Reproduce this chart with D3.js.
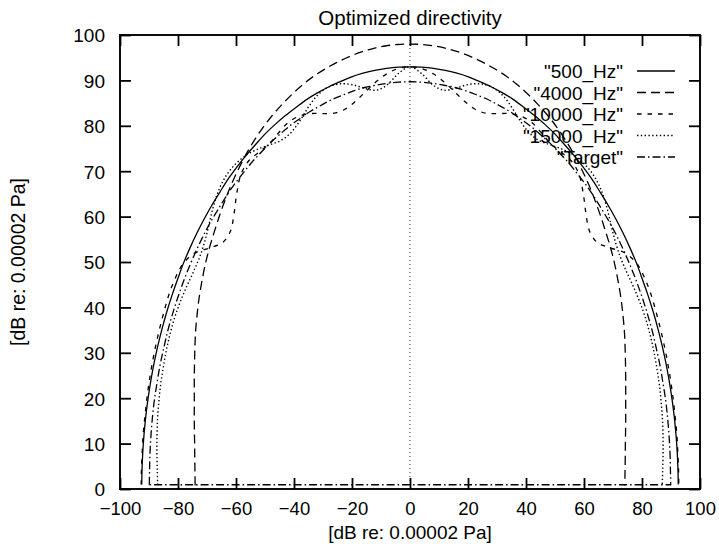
<!DOCTYPE html>
<html><head><meta charset="utf-8">
<script src="https://cdn.jsdelivr.net/npm/d3@7"></script>
<style>body{margin:0;background:#fff}svg{display:block}text{font-family:"Liberation Sans",Arial,Helvetica,sans-serif;fill:#000}</style>
</head><body><svg id="chart" width="719" height="546"></svg>
<script>
const chartTitle = "Optimized directivity";
const xLabel = "[dB re: 0.00002 Pa]";
const yLabel = "[dB re: 0.00002 Pa]";
const xTicks = [-100,-80,-60,-40,-20,0,20,40,60,80,100];
const yTicks = [0,10,20,30,40,50,60,70,80,90,100];
const seriesNames = ['"500_Hz"','"4000_Hz"','"10000_Hz"','"15000_Hz"','"Target"'];

// polar angles (degrees from the front axis) and levels (dB)
const anglesDeg = [-89.4,-87.5,-85,-82.5,-80,-77.5,-75,-72.5,-70,-67.5,-65,-62.5,-60,-57.5,-55,-52.5,-50,-47.5,-45,-42.5,-40,-37.5,-35,-32.5,-30,-27.5,-25,-22.5,-20,-17.5,-15,-12.5,-10,-7.5,-5,-2.5,0,2.5,5,7.5,10,12.5,15,17.5,20,22.5,25,27.5,30,32.5,35,37.5,40,42.5,45,47.5,50,52.5,55,57.5,60,62.5,65,67.5,70,72.5,75,77.5,80,82.5,85,87.5,89.4];

const level500 = [92.5,92.5,92.5,92.5,92.5,92.5,92.5,92.5,92.5,92.5,92.5,92.5,92.5,92.6,92.6,92.6,92.6,92.6,92.6,92.7,92.7,92.7,92.7,92.8,92.8,92.8,92.8,92.9,92.9,92.9,92.9,93.0,93.0,93.0,93.0,93.0,93.0,93.0,93.0,93.0,93.0,93.0,92.9,92.9,92.9,92.9,92.8,92.8,92.8,92.8,92.7,92.7,92.7,92.7,92.6,92.6,92.6,92.6,92.6,92.6,92.5,92.5,92.5,92.5,92.5,92.5,92.5,92.5,92.5,92.5,92.5,92.5,92.5];

const level4000 = [74.1,74.2,74.5,74.9,75.5,76.2,77.0,78.0,79.1,80.3,81.6,82.8,84.0,85.1,86.2,87.2,88.1,89.1,90.1,91.1,92.0,92.9,93.7,94.4,95.0,95.5,96.0,96.45,96.8,97.05,97.3,97.5,97.7,97.85,97.95,98.0,98.0,98.0,97.95,97.85,97.7,97.5,97.3,97.05,96.8,96.45,96.0,95.5,95.0,94.4,93.7,92.9,92.0,91.1,90.1,89.1,88.1,87.2,86.2,85.1,84.0,82.8,81.6,80.3,79.1,78.0,77.0,76.2,75.5,74.9,74.5,74.2,74.1];

const level10000 = [92.7,92.7,92.7,92.8,92.8,92.9,93.0,93.1,93.2,93.3,93.4,93.5,93.3,92.6,90.6,87.2,84.4,84.0,85.8,88.4,90.6,91.2,90.6,90.2,90.6,91.0,90.6,89.5,88.0,86.8,86.6,87.4,88.8,90.4,91.8,92.7,93.0,92.7,91.8,90.4,88.8,87.4,86.6,86.8,88.0,89.5,90.6,91.0,90.6,90.2,90.6,91.2,90.6,88.4,85.8,84.0,84.4,87.2,90.6,92.6,93.3,93.5,93.4,93.3,93.2,93.1,93.0,92.9,92.8,92.8,92.7,92.7,92.7];

const level15000 = [87.0,87.2,87.6,88.0,88.4,88.7,89.0,89.2,89.4,89.5,89.5,89.3,89.0,88.7,88.7,89.3,90.5,92.0,93.2,93.7,93.5,92.7,91.4,89.9,88.7,88.6,89.6,91.2,92.5,92.9,92.4,91.2,89.6,88.6,89.4,91.6,93.0,91.6,89.4,88.6,89.6,91.2,92.4,92.9,92.5,91.2,89.6,88.6,88.7,89.9,91.4,92.7,93.5,93.7,93.2,92.0,90.5,89.3,88.7,88.7,89.0,89.3,89.5,89.5,89.4,89.2,89.0,88.7,88.4,88.0,87.6,87.2,87.0];

const levelTarget = [89.9,89.9,90.0,90.1,90.2,90.3,90.3,90.4,90.4,90.5,90.5,90.5,90.5,90.5,90.5,90.5,90.5,90.4,90.4,90.4,90.3,90.3,90.2,90.2,90.1,90.1,90.0,90.0,89.9,89.9,89.8,89.8,89.8,89.7,89.7,89.7,89.7,89.7,89.7,89.7,89.8,89.8,89.8,89.9,89.9,90.0,90.0,90.1,90.1,90.2,90.2,90.3,90.3,90.4,90.4,90.4,90.5,90.5,90.5,90.5,90.5,90.5,90.5,90.5,90.4,90.4,90.3,90.3,90.2,90.1,90.0,89.9,89.9];

const seriesLevels = [level500, level4000, level10000, level15000, levelTarget];
const seriesDash = [null, "9,5", "4.5,6", "1.4,2.4", "8,3,1.5,3"];

const svg = d3.select("#chart");
const W = 719, H = 546;
svg.append("rect").attr("width", W).attr("height", H).attr("fill", "#fff");

const x = d3.scaleLinear().domain([-100, 100]).range([120, 700]);
const y = d3.scaleLinear().domain([0, 100]).range([489, 35]);

// zero axis
svg.append("line")
  .attr("x1", x(0)).attr("x2", x(0)).attr("y1", y(0)).attr("y2", y(100))
  .attr("stroke", "#333").attr("stroke-width", 1).attr("stroke-dasharray", "1,3");

// axes
const inner = 11;
const gL = svg.append("g").attr("transform", `translate(${x(-100)},0)`)
  .call(d3.axisLeft(y).tickValues(yTicks).tickSize(-inner).tickPadding(15).tickFormat(d3.format("d")));
const gB = svg.append("g").attr("transform", `translate(0,${y(0)})`)
  .call(d3.axisBottom(x).tickValues(xTicks).tickSize(-inner).tickPadding(13).tickFormat(d3.format("d")));
const gR = svg.append("g").attr("transform", `translate(${x(100)},0)`)
  .call(d3.axisRight(y).tickValues(yTicks).tickSize(-inner).tickFormat(""));
const gT = svg.append("g").attr("transform", `translate(0,${y(100)})`)
  .call(d3.axisTop(x).tickValues(xTicks).tickSize(-inner).tickFormat(""));
[gL, gB, gR, gT].forEach(g => {
  g.select(".domain").remove();
  g.selectAll(".tick line").attr("stroke", "#000").attr("stroke-width", 1.8);
  g.selectAll("text").attr("font-size", 19).attr("fill", "#000")
    .style("font-family", '"Liberation Sans", Arial, sans-serif');
});
gL.selectAll("text").attr("dy", "0.36em");
gB.selectAll("text").attr("font-size", 18.5);

// frame
svg.append("rect")
  .attr("x", x(-100)).attr("y", y(100))
  .attr("width", x(100) - x(-100)).attr("height", y(0) - y(100))
  .attr("fill", "none").attr("stroke", "#000").attr("stroke-width", 1.9);

// curves
const line = d3.line().x(d => x(d[0])).y(d => y(d[1])).curve(d3.curveCatmullRom.alpha(0.5));
seriesLevels.forEach((lev, i) => {
  const pts = anglesDeg.map((a, k) => {
    const t = a * Math.PI / 180;
    return [lev[k] * Math.sin(t), lev[k] * Math.cos(t)];
  });
  let d = line(pts);
  if (i === 4) d += `L${x(pts[0][0])},${y(pts[0][1])}`;
  svg.append("path").attr("d", d).attr("fill", "none")
    .attr("stroke", "#000").attr("stroke-width", i === 3 ? 1.4 : 1.3)
    .attr("stroke-dasharray", seriesDash[i]);
});

// legend
const legY0 = 71, legStep = 21.5;
seriesNames.forEach((name, i) => {
  const ly = legY0 + i * legStep;
  svg.append("text").attr("x", 623).attr("y", ly + 7).attr("text-anchor", "end")
    .attr("font-size", 19).text(name);
  svg.append("line").attr("x1", 637).attr("x2", 675).attr("y1", ly).attr("y2", ly)
    .attr("stroke", "#000").attr("stroke-width", i === 3 ? 1.4 : 1.3)
    .attr("stroke-dasharray", seriesDash[i]);
});

// titles
svg.append("text").attr("x", 410).attr("y", 25).attr("text-anchor", "middle")
  .attr("font-size", 20.5).text(chartTitle);
svg.append("text").attr("x", 410).attr("y", 539).attr("text-anchor", "middle")
  .attr("font-size", 19).text(xLabel);
svg.append("text").attr("transform", "translate(25,262) rotate(-90)").attr("text-anchor", "middle")
  .attr("font-size", 19.5).text(yLabel);
</script>
</body></html>
